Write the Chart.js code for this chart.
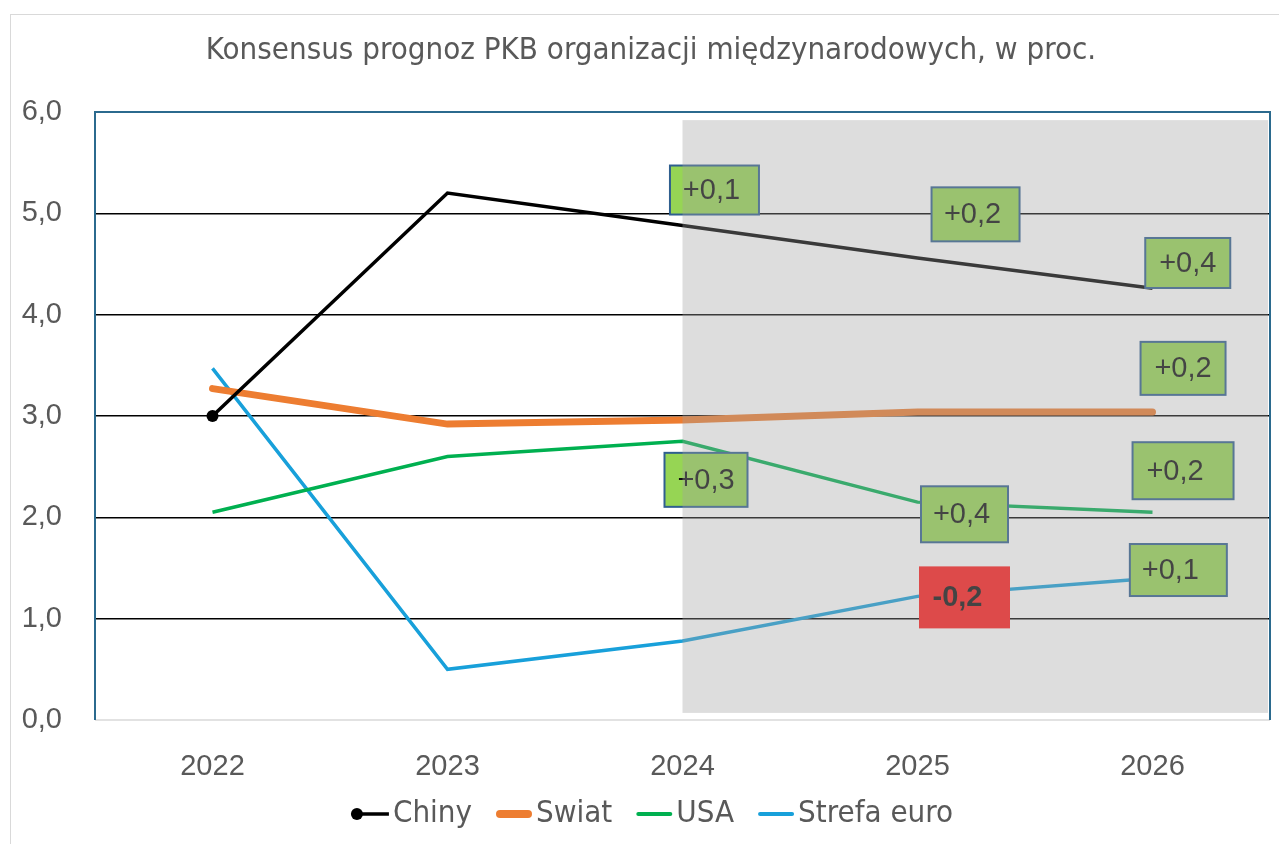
<!DOCTYPE html>
<html>
<head>
<meta charset="utf-8">
<script src="https://cdn.jsdelivr.net/npm/chart.js@4/dist/chart.umd.min.js"></script>
<style>
html,body{margin:0;padding:0;background:#fff;}
#wrap{position:relative;width:1279px;height:844px;}
</style>
</head>
<body>
<div id="wrap"><canvas id="c" width="1279" height="844"></canvas></div>
<script>
// ---- data ----
const categories = ['2022', '2023', '2024', '2025', '2026'];
const chiny = [3.0, 5.2, 4.88, 4.56, 4.26];
const swiat = [3.27, 2.92, 2.96, 3.04, 3.04];
const usa = [2.05, 2.6, 2.75, 2.15, 2.05];
const strefaEuro = [3.47, 0.5, 0.78, 1.22, 1.4];
const yTicks = [0, 1, 2, 3, 4, 5, 6];
const seriesNames = ['Chiny', 'Swiat', 'USA', 'Strefa euro'];
const titleText = 'Konsensus prognoz PKB organizacji międzynarodowych, w proc.';

// forecast revisions (labels placed in data coordinates)
const revisionLabels = ['+0,1', '+0,2', '+0,4', '+0,2', '+0,3', '+0,4', '+0,2', '-0,2', '+0,1'];
const revisionX = [2.136, 3.247, 4.15, 4.13, 2.10, 3.2, 4.13, 3.2, 4.11];
const revisionY = [5.23, 4.99, 4.51, 3.47, 2.37, 2.03, 2.46, 1.21, 1.48];
const forecastStart = 2; // index of 2024

// ---- styles ----
const NARROW = "'Liberation Sans Narrow', 'DejaVu Sans Condensed', 'Arial Narrow', sans-serif";
const SANS = "'Liberation Sans', Arial, sans-serif";
const TXT = '#595959';
const boxSizes = [[89,49],[88,54],[85,50],[85,53],[83,54],[87,56],[101,57],[91,62],[97,52]];
const boxTextDx = [-3, -3, 0, 0, 0, -3, -8, -7, -8];

const frame = {
  id: 'frame',
  beforeDraw(chart) {
    const c = chart.ctx;
    c.save();
    c.strokeStyle = '#d9d9d9';
    c.lineWidth = 1;
    c.strokeRect(10.5, 14.5, 1400, 1000);
    // title
    c.fillStyle = TXT;
    c.font = '31px ' + NARROW;
    c.textAlign = 'center';
    c.textBaseline = 'middle';
    c.fillText(titleText, 651, 51);
    c.restore();
  },
  beforeDatasetsDraw(chart) {
    const c = chart.ctx, a = chart.chartArea;
    c.save();
    c.strokeStyle = '#d9d9d9';
    c.lineWidth = 1.5;
    c.beginPath(); c.moveTo(a.left, a.bottom); c.lineTo(a.right, a.bottom); c.stroke();
    c.strokeStyle = '#2B6A8E';
    c.lineWidth = 2;
    c.beginPath();
    c.moveTo(a.left, a.bottom); c.lineTo(a.left, a.top); c.lineTo(a.right, a.top); c.lineTo(a.right, a.bottom);
    c.stroke();
    c.restore();
  },
  afterDatasetsDraw(chart) {
    const c = chart.ctx, a = chart.chartArea;
    const xs = chart.scales.x, ys = chart.scales.y;
    c.save();
    revisionLabels.forEach((t, i) => {
      const cx = xs.getPixelForValue(revisionX[i]);
      const cy = ys.getPixelForValue(revisionY[i]);
      const [w, h] = boxSizes[i];
      const neg = t.startsWith('-');
      c.fillStyle = neg ? '#FF1A1A' : '#96D554';
      c.fillRect(cx - w / 2, cy - h / 2, w, h);
      if (!neg) {
        c.strokeStyle = '#2F5F8F';
        c.lineWidth = 2;
        c.strokeRect(cx - w / 2, cy - h / 2, w, h);
      }
      c.fillStyle = '#111';
      c.font = (neg ? 'bold ' : '') + '29px ' + SANS;
      c.textAlign = 'center';
      c.textBaseline = 'middle';
      c.fillText(t, cx + boxTextDx[i], cy + 1);
    });
    // forecast shading overlay
    const x0 = xs.getPixelForValue(forecastStart);
    const yTop = ys.getPixelForValue(5.92);
    const yBot = ys.getPixelForValue(0.07);
    c.fillStyle = 'rgba(160,160,160,0.36)';
    c.fillRect(x0, yTop, a.right - 2 - x0, yBot - yTop);
    c.restore();
  },
  afterDraw(chart) {
    const c = chart.ctx;
    c.save();
    c.font = '31px ' + NARROW;
    c.textBaseline = 'middle';
    const symW = 36, gap = 4, itemGap = 24;
    const ds = chart.data.datasets;
    const widths = ds.map(d => symW + gap + c.measureText(d.label).width);
    const total = widths.reduce((s, w) => s + w, 0) + itemGap * (ds.length - 1);
    let x = 653 - total / 2;
    const y = 814;
    ds.forEach((d, i) => {
      c.strokeStyle = d.borderColor;
      c.lineWidth = i === 1 ? 8 : (i === 0 ? 3.5 : 4);
      c.lineCap = i === 0 ? 'butt' : 'round';
      const inset = i === 0 ? 0 : c.lineWidth / 2;
      c.beginPath(); c.moveTo(x + inset, y); c.lineTo(x + symW - inset, y); c.stroke();
      if (i === 0) {
        c.fillStyle = '#000';
        c.beginPath(); c.arc(x + 4, y, 6, 0, Math.PI * 2); c.fill();
      }
      c.fillStyle = TXT;
      c.textAlign = 'left';
      c.fillText(d.label, x + symW + gap, y);
      x += widths[i] + itemGap;
    });
    c.restore();
  }
};

new Chart(document.getElementById('c'), {
  type: 'line',
  data: {
    labels: categories,
    datasets: [
      { label: seriesNames[0], data: chiny, borderColor: '#000000', backgroundColor: '#000000', borderWidth: 3.5,
        pointRadius: [6, 0, 0, 0, 0], pointBackgroundColor: '#000', pointBorderWidth: 0, tension: 0 },
      { label: seriesNames[1], data: swiat, borderColor: '#ED7D31', borderWidth: 7, pointRadius: 0, tension: 0, borderCapStyle: 'round' },
      { label: seriesNames[2], data: usa, borderColor: '#00B050', borderWidth: 3.5, pointRadius: 0, tension: 0 },
      { label: seriesNames[3], data: strefaEuro, borderColor: '#18A0DA', borderWidth: 3.5, pointRadius: 0, tension: 0 }
    ]
  },
  options: {
    responsive: false,
    animation: false,
    layout: { padding: { left: 0, top: 112, right: 9, bottom: 44 } },
    plugins: { legend: { display: false }, title: { display: false }, tooltip: { enabled: false } },
    scales: {
      x: {
        offset: true,
        grid: { display: false },
        border: { display: false },
        ticks: { color: TXT, font: { family: SANS, size: 29 }, padding: 22 },
        afterFit(s) { s.height = 80; }
      },
      y: {
        min: 0, max: 6,
        afterBuildTicks(s) { s.ticks = yTicks.map(v => ({ value: v })); },
        grid: {
          drawTicks: false,
          color: ctx => (ctx.tick && ctx.tick.value > 0 && ctx.tick.value < 6) ? '#000' : 'rgba(0,0,0,0)',
          lineWidth: 1.5
        },
        border: { display: false },
        ticks: {
          color: TXT, font: { family: SANS, size: 29 }, padding: 33,
          callback: v => v.toFixed(1).replace('.', ',')
        },
        afterFit(s) { s.width = 95; }
      }
    }
  },
  plugins: [frame]
});
</script>
</body>
</html>
